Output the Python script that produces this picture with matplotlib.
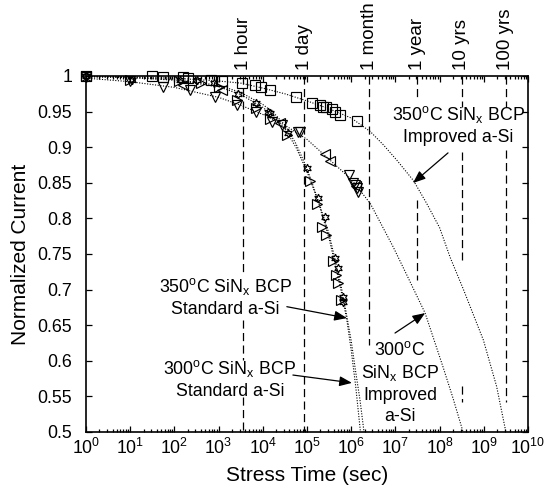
import matplotlib
matplotlib.use('Agg')
import matplotlib.pyplot as plt
from matplotlib.ticker import FixedLocator, FixedFormatter, LogLocator, NullFormatter

plt.rcParams['font.family'] = ['Liberation Sans', 'DejaVu Sans']
plt.rcParams['mathtext.fontset'] = 'custom'
plt.rcParams['mathtext.rm'] = 'Liberation Sans'
plt.rcParams['mathtext.it'] = 'Liberation Sans:italic'
plt.rcParams['mathtext.bf'] = 'Liberation Sans:bold'
plt.rcParams['mathtext.sf'] = 'Liberation Sans'

# ---------------- data ----------------
# 350C SiNx BCP, improved a-Si (squares)
sq_t = [1, 31, 54, 160, 200, 690, 1200, 3300, 6600, 9300, 1.45e4, 5.6e4, 1.3e5,
        1.95e5, 2.35e5, 2.75e5, 3.6e5, 4.3e5, 5.6e5, 1.35e6]
sq_I = [1.0, 1.0, 0.999, 0.998, 0.997, 0.994, 0.993, 0.990, 0.987, 0.984, 0.980,
        0.970, 0.9625, 0.959, 0.957, 0.956, 0.953, 0.950, 0.945, 0.937]

# 300C SiNx BCP, improved a-Si (down triangles and left triangles)
dn_t = [1, 10, 56, 220, 830, 2600, 7200, 1.6e4, 2.7e4, 6.3e4, 7.1e4, 8.7e5,
        1.12e6, 1.23e6, 1.32e6, 1.41e6]
dn_I = [0.999, 0.993, 0.985, 0.980, 0.971, 0.959, 0.950, 0.936, 0.931, 0.922,
        0.921, 0.861, 0.850, 0.847, 0.842, 0.8375]
lt_t = [1, 160, 1200, 2.45e4, 2.6e5, 3.3e5, 1.26e6]
lt_I = [1.0, 0.988, 0.981, 0.934, 0.890, 0.880, 0.845]

# 350C SiNx BCP, standard a-Si (six-pointed stars)
st_t = [1, 11, 135, 320, 800, 2750, 7100, 1.32e4, 1.45e4, 3.8e4, 1.0e5, 1.74e5,
        2.57e5, 4.3e5, 4.9e5, 6.5e5, 6.6e5]
st_I = [1.0, 0.994, 0.995, 0.994, 0.990, 0.975, 0.9625, 0.950, 0.948, 0.920,
        0.871, 0.828, 0.802, 0.744, 0.730, 0.690, 0.683]

# 300C SiNx BCP, standard a-Si (right triangles)
rt_t = [1, 10, 125, 400, 1000, 2600, 7200, 1.45e4, 3.5e4, 1.17e5, 1.66e5, 2.14e5,
        2.75e5, 3.9e5, 4.5e5, 4.9e5, 6.0e5]
rt_I = [1.0, 0.995, 0.993, 0.990, 0.985, 0.966, 0.955, 0.940, 0.917, 0.853, 0.820,
        0.788, 0.777, 0.740, 0.720, 0.709, 0.685]

# fitted (extrapolated) curves
fitA_t = [1, 10, 100, 1e3, 3.16e3, 1e4, 3.16e4, 1e5, 3.16e5, 1e6, 2.7e6, 5.4e6,
          1.07e7, 2.57e7, 5.1e7, 1e8, 1.74e8, 3.47e8, 9.8e8, 1.95e9, 3.16e9]
fitA_I = [1.0, 0.999, 0.997, 0.993, 0.990, 0.983, 0.975, 0.965, 0.954, 0.941, 0.922,
          0.903, 0.882, 0.853, 0.821, 0.787, 0.745, 0.700, 0.629, 0.564, 0.5]
fitB_t = [1, 10, 100, 1e3, 3.16e3, 1e4, 3.16e4, 1e5, 3.16e5, 1e6, 2.7e6, 8.9e6,
          2e7, 4.7e7, 1.2e8, 2e8, 3.4e8]
fitB_I = [0.997, 0.992, 0.984, 0.970, 0.959, 0.946, 0.931, 0.911, 0.883, 0.855,
          0.821, 0.760, 0.715, 0.667, 0.591, 0.548, 0.5]
fitC_t = [1, 10, 100, 1e3, 3.16e3, 1e4, 1.78e4, 3.16e4, 5.62e4, 1e5, 1.78e5,
          3.16e5, 5.62e5, 7.94e5, 1e6, 1.26e6, 1.62e6]
fitC_I = [0.999, 0.998, 0.994, 0.985, 0.974, 0.956, 0.943, 0.926, 0.900, 0.866,
          0.824, 0.772, 0.705, 0.658, 0.615, 0.565, 0.5]
fitD_t = [1, 10, 100, 1e3, 3.16e3, 1e4, 1.78e4, 3.16e4, 5.62e4, 1e5, 1.78e5,
          3.16e5, 5.62e5, 7.59e5, 1e6, 1.26e6, 1.58e6, 1.95e6]
fitD_I = [0.999, 0.998, 0.995, 0.987, 0.977, 0.960, 0.948, 0.931, 0.905, 0.870,
          0.826, 0.778, 0.712, 0.670, 0.628, 0.585, 0.545, 0.5]

# time reference lines
ref_labels = ['1 hour', '1 day', '1 month', '1 year', '10 yrs', '100 yrs']
ref_t = [3600, 86400, 2.592e6, 3.1536e7, 3.1536e8, 3.1536e9]

x_ticks = [1e0, 1e1, 1e2, 1e3, 1e4, 1e5, 1e6, 1e7, 1e8, 1e9, 1e10]
x_ticklabels = ['$10^0$', '$10^1$', '$10^2$', '$10^3$', '$10^4$', '$10^5$',
                '$10^6$', '$10^7$', '$10^8$', '$10^9$', '$10^{10}$']
y_ticks = [0.5, 0.55, 0.6, 0.65, 0.7, 0.75, 0.8, 0.85, 0.9, 0.95, 1.0]
y_ticklabels = ['0.5', '0.55', '0.6', '0.65', '0.7', '0.75', '0.8', '0.85',
                '0.9', '0.95', '1']

# ---------------- figure ----------------
W, H = 550, 488
fig = plt.figure(figsize=(W / 100, H / 100), dpi=100)
ax = fig.add_axes([86 / W, 1 - 432 / H, 442 / W, 356 / H])
ax.set_xscale('log')
ax.set_xlim(1, 1e10)
ax.set_ylim(0.5, 1.0)

# visible segments of the dashed reference lines (y extents)
segments = [
    [(1.0, 0.725), (0.657, 0.601), (0.549, 0.5)],
    [(1.0, 0.5)],
    [(1.0, 0.622)],
    [(1.0, 0.966), (0.826, 0.713)],
    [(1.0, 0.957), (0.893, 0.742), (0.565, 0.542)],
    [(1.0, 0.957), (0.896, 0.542)],
]
for t, segs in zip(ref_t, segments):
    for y0, y1 in segs:
        ax.plot([t, t], [y0, y1], color='black', lw=0.9, dashes=(6.5, 3.5), zorder=1)

for lab, t in zip(ref_labels, ref_t):
    ax.annotate(lab, xy=(t, 1.0), xycoords=('data', 'axes fraction'),
                xytext=(0, 4.5), textcoords='offset points', rotation=90,
                ha='center', va='bottom', fontsize=13.5)

dot = dict(color='black', lw=0.8, linestyle=(0, (1, 1.4)), zorder=2)
for ft, fI in [(fitA_t, fitA_I), (fitB_t, fitB_I), (fitC_t, fitC_I), (fitD_t, fitD_I)]:
    ax.plot(ft, fI, **dot)

mk = dict(linestyle='none', markerfacecolor='none', markeredgecolor='black',
          markeredgewidth=0.85, clip_on=False, zorder=3)
ax.plot(sq_t, sq_I, marker='s', markersize=6.5, **mk)
ax.plot(dn_t, dn_I, marker='v', markersize=7.8, **mk)
ax.plot(lt_t, lt_I, marker='<', markersize=7.8, **mk)
ax.plot(rt_t, rt_I, marker='>', markersize=7.8, **mk)
ax.plot(st_t, st_I, marker=(6, 1, 0), markersize=6.2, **mk)

# annotations
txt = dict(ha='center', va='center', fontsize=12.8, linespacing=1.3, zorder=5)
arw = dict(arrowstyle='-|>,head_length=0.75,head_width=0.3', color='black',
           lw=0.9, shrinkA=0, shrinkB=0)
S350 = r'350$^{\mathregular{o}}$C SiN$_{\mathregular{x}}$ BCP'
S300 = r'300$^{\mathregular{o}}$C SiN$_{\mathregular{x}}$ BCP'

ax.text(2.7e8, 0.931, S350 + '\nImproved a-Si', **txt)
ax.annotate('', xy=(2.5e7, 0.8497), xytext=(1.55e8, 0.892), arrowprops=arw)

ax.text(1.4e3, 0.6896, S350 + '\nStandard a-Si', **txt)
ax.annotate('', xy=(8.0e5, 0.660), xytext=(3.5e4, 0.676), arrowprops=arw)

ax.text(1.8e3, 0.5744, S300 + '\nStandard a-Si', **txt)
ax.annotate('', xy=(1.04e6, 0.569), xytext=(4.8e4, 0.580), arrowprops=arw)

ax.text(1.27e7, 0.569, '300$^{\\mathregular{o}}$C\nSiN$_{\\mathregular{x}}$ BCP\nImproved\na-Si', **txt)
ax.annotate('', xy=(4.7e7, 0.667), xytext=(9.8e6, 0.639), arrowprops=arw)

# axes styling
ax.xaxis.set_major_locator(FixedLocator(x_ticks))
ax.xaxis.set_major_formatter(FixedFormatter(x_ticklabels))
ax.xaxis.set_minor_locator(LogLocator(base=10, subs=range(2, 10), numticks=200))
ax.xaxis.set_minor_formatter(NullFormatter())
ax.yaxis.set_major_locator(FixedLocator(y_ticks))
ax.yaxis.set_major_formatter(FixedFormatter(y_ticklabels))
ax.tick_params(which='both', direction='in', top=True, right=True, width=0.9)
ax.tick_params(which='major', length=4)
ax.tick_params(which='minor', length=2.2)
ax.tick_params(axis='x', which='major', pad=4, labelsize=12.8)
ax.tick_params(axis='y', which='major', pad=10, labelsize=12.8)
for sp in ax.spines.values():
    sp.set_linewidth(1.2)

ax.set_xlabel('Stress Time (sec)', fontsize=15)
ax.set_ylabel('Normalized Current', fontsize=15)
ax.xaxis.set_label_coords(0.5, -0.123)
ax.xaxis.label.set_va('center')
ax.yaxis.set_label_coords(-0.148, 0.5)
ax.yaxis.label.set_va('center')

fig.savefig('out.png', dpi=100)
